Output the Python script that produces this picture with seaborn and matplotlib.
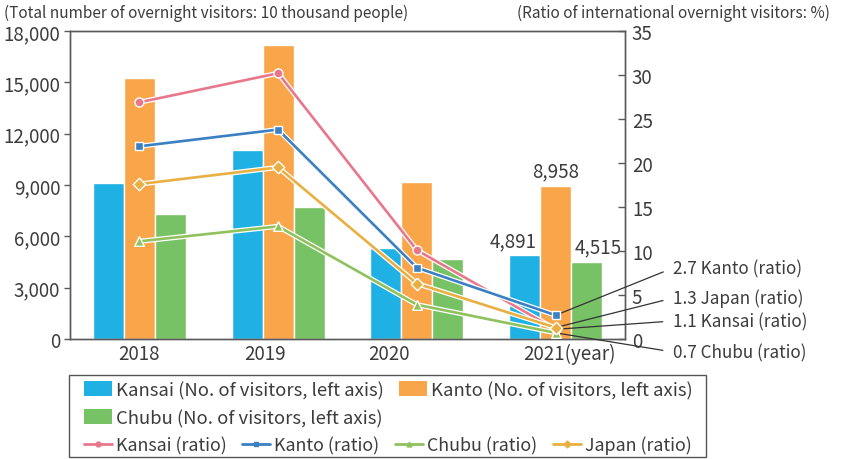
import numpy as np
import pandas as pd
import matplotlib
matplotlib.use("Agg")
import matplotlib.pyplot as plt
import matplotlib.patheffects as pe
import matplotlib.transforms as mtransforms
from matplotlib.patches import Patch, Rectangle
from matplotlib.lines import Line2D
import seaborn as sns

# ===============================
# DATA
# ===============================
years = ["2018", "2019", "2020", "2021"]
year_labels = ["2018", "2019", "2020", "2021(year)"]

# total overnight visitors (10 thousand people), left axis
kansai_visitors = [9100, 11040, 5300, 4891]
kanto_visitors = [15250, 17190, 9150, 8958]
chubu_visitors = [7300, 7700, 4680, 4515]

# ratio of international overnight visitors (%), right axis
kansai_ratio = [26.9, 30.2, 10.1, 1.1]
kanto_ratio = [21.9, 23.8, 8.1, 2.7]
chubu_ratio = [11.1, 12.8, 3.9, 0.7]
japan_ratio = [17.6, 19.5, 6.3, 1.3]

bar_names = ["Kansai (No. of visitors, left axis)",
             "Kanto (No. of visitors, left axis)",
             "Chubu (No. of visitors, left axis)"]
line_names = ["Kansai (ratio)", "Kanto (ratio)", "Chubu (ratio)", "Japan (ratio)"]

# ===============================
# STYLE
# ===============================
sns.set_style("white")
plt.rcParams["font.family"] = ["Noto Sans CJK JP", "DejaVu Sans"]
TEXT = "#3c3c3c"
SPINE = "#5a5a5a"
plt.rcParams["text.color"] = TEXT
plt.rcParams["xtick.color"] = TEXT
plt.rcParams["ytick.color"] = TEXT

bar_colors = ["#1fb0e4", "#f9a54a", "#78c266"]
line_colors = ["#e9778c", "#3b80c2", "#8fc15d", "#e8b043"]
line_markers = ["o", "s", "^", "D"]
marker_area = [42, 40, 48, 40]

df = pd.DataFrame({
    "year": years * 3,
    "visitors": kansai_visitors + kanto_visitors + chubu_visitors,
    "region": [bar_names[0]] * 4 + [bar_names[1]] * 4 + [bar_names[2]] * 4,
})

fig = plt.figure(figsize=(8.44, 4.6), dpi=100)
ax = fig.add_axes([70 / 844, 1 - 340 / 460, 555 / 844, 308 / 460])

sns.barplot(data=df, x="year", y="visitors", hue="region", palette=bar_colors,
            width=0.67, gap=0, saturation=1, ax=ax, legend=False)

ax.set_ylim(0, 18000)
ax.set_yticks(np.arange(0, 18001, 3000))
ax.set_yticklabels([f"{v:,}" for v in range(0, 18001, 3000)], fontsize=13.5)
ax.set_xlim(-0.5, len(years) - 0.5)
ax.set_xlabel("")
ax.set_ylabel("")
ax.set_xticks(range(len(years)))
ax.set_xticklabels(year_labels, fontsize=13.5)
ax.tick_params(axis="x", length=0, pad=3)
ax.set_xticks(np.arange(0.5, len(years) - 1, 1), minor=True)
ax.tick_params(axis="x", which="minor", direction="in", length=5, color=SPINE, width=1)
ax.tick_params(axis="y", direction="out", length=4, color=SPINE, width=1, pad=3)
for s in ax.spines.values():
    s.set_color(SPINE)
    s.set_linewidth(1)

# nudge x tick labels like the original
x_offsets = [0, -13, -28, 14]
for lab, dx in zip(ax.get_xticklabels(), x_offsets):
    lab.set_transform(lab.get_transform() + mtransforms.ScaledTranslation(dx / 100, 0, fig.dpi_scale_trans))

# value labels on 2021 bars
last = len(years) - 1
label_dx = [-8, 0, 8]
for cont, dx, vals in zip(ax.containers, label_dx,
                          [kansai_visitors, kanto_visitors, chubu_visitors]):
    p = cont[last]
    ax.annotate(f"{vals[last]:,}", (p.get_x() + p.get_width() / 2, p.get_height()),
                xytext=(dx, 3), textcoords="offset points", ha="center", va="bottom",
                fontsize=13.5, color=TEXT)

# ===============================
# RATIO LINES (right axis)
# ===============================
ax2 = ax.twinx()
xpos = np.arange(len(years))
ratios = [kansai_ratio, kanto_ratio, chubu_ratio, japan_ratio]
for vals, c in zip(ratios, line_colors):
    sns.lineplot(x=xpos, y=vals, ax=ax2, color=c, linewidth=1.9,
                 path_effects=[pe.Stroke(linewidth=3.7, foreground="white"), pe.Normal()],
                 zorder=3)
for vals, c, m, ms in zip(ratios, line_colors, line_markers, marker_area):
    sns.scatterplot(x=xpos, y=vals, ax=ax2, color=c, marker=m, s=ms,
                    edgecolor="white", linewidth=1.0, zorder=4)
ax2.set_ylim(0, 35)
ax2.set_yticks(range(0, 36, 5))
ax2.set_yticklabels([str(v) for v in range(0, 36, 5)], fontsize=13.5)
ax2.tick_params(axis="y", direction="in", length=5, color=SPINE, width=1, pad=5)
ax2.set_xlim(-0.5, len(years) - 0.5)
for s in ax2.spines.values():
    s.set_color(SPINE)
    s.set_linewidth(1)

# leader-line labels for the 2021 ratios
callouts = [(kanto_ratio, "Kanto (ratio)", 191),
            (japan_ratio, "Japan (ratio)", 161),
            (kansai_ratio, "Kansai (ratio)", 138),
            (chubu_ratio, "Chubu (ratio)", 107)]
for vals, name, ty in callouts:
    ax2.annotate(f"{vals[last]} {name}", (last, vals[last]), xytext=(673, ty),
                 textcoords="figure pixels", ha="left", va="center", fontsize=12.3,
                 color=TEXT, annotation_clip=False,
                 arrowprops=dict(arrowstyle="-", color="#333333", lw=0.9,
                                 shrinkA=5, shrinkB=0, relpos=(0, 0.5)))

# axis titles
fig.text(4 / 844, 1 - 13 / 460, "(Total number of overnight visitors: 10 thousand people)",
         ha="left", va="center", fontsize=11.1)
fig.text(830 / 844, 1 - 13 / 460, "(Ratio of international overnight visitors: %)",
         ha="right", va="center", fontsize=11.1)

# ===============================
# LEGEND
# ===============================
leg_kw = dict(loc="center left", frameon=False, fontsize=13.3, handlelength=1.5,
              handleheight=0.85, handletextpad=0.22, columnspacing=0.85,
              borderaxespad=0, borderpad=0)
bar_handles = [Patch(facecolor=c, edgecolor="none") for c in bar_colors]
fig.legend(bar_handles[:2], bar_names[:2], ncol=2,
           bbox_to_anchor=(84 / 844, 1 - 391 / 460), **leg_kw)
fig.legend(bar_handles[2:], bar_names[2:], ncol=1,
           bbox_to_anchor=(84 / 844, 1 - 419 / 460), **leg_kw)
line_handles = [Line2D([0], [0], color=c, lw=2, marker=m, markersize=3.5,
                       markeredgecolor=c) for c, m in zip(line_colors, line_markers)]
line_kw = dict(leg_kw, fontsize=12.85, handlelength=1.55, columnspacing=0.9)
fig.legend(line_handles, line_names, ncol=4,
           bbox_to_anchor=(84 / 844, 1 - 446 / 460), **line_kw)
fig.add_artist(Rectangle((69 / 844, 1 - 458 / 460), 637 / 844, 82 / 460,
                         transform=fig.transFigure, fill=False,
                         edgecolor="#555555", linewidth=1))

fig.savefig("out.png", dpi=100)
